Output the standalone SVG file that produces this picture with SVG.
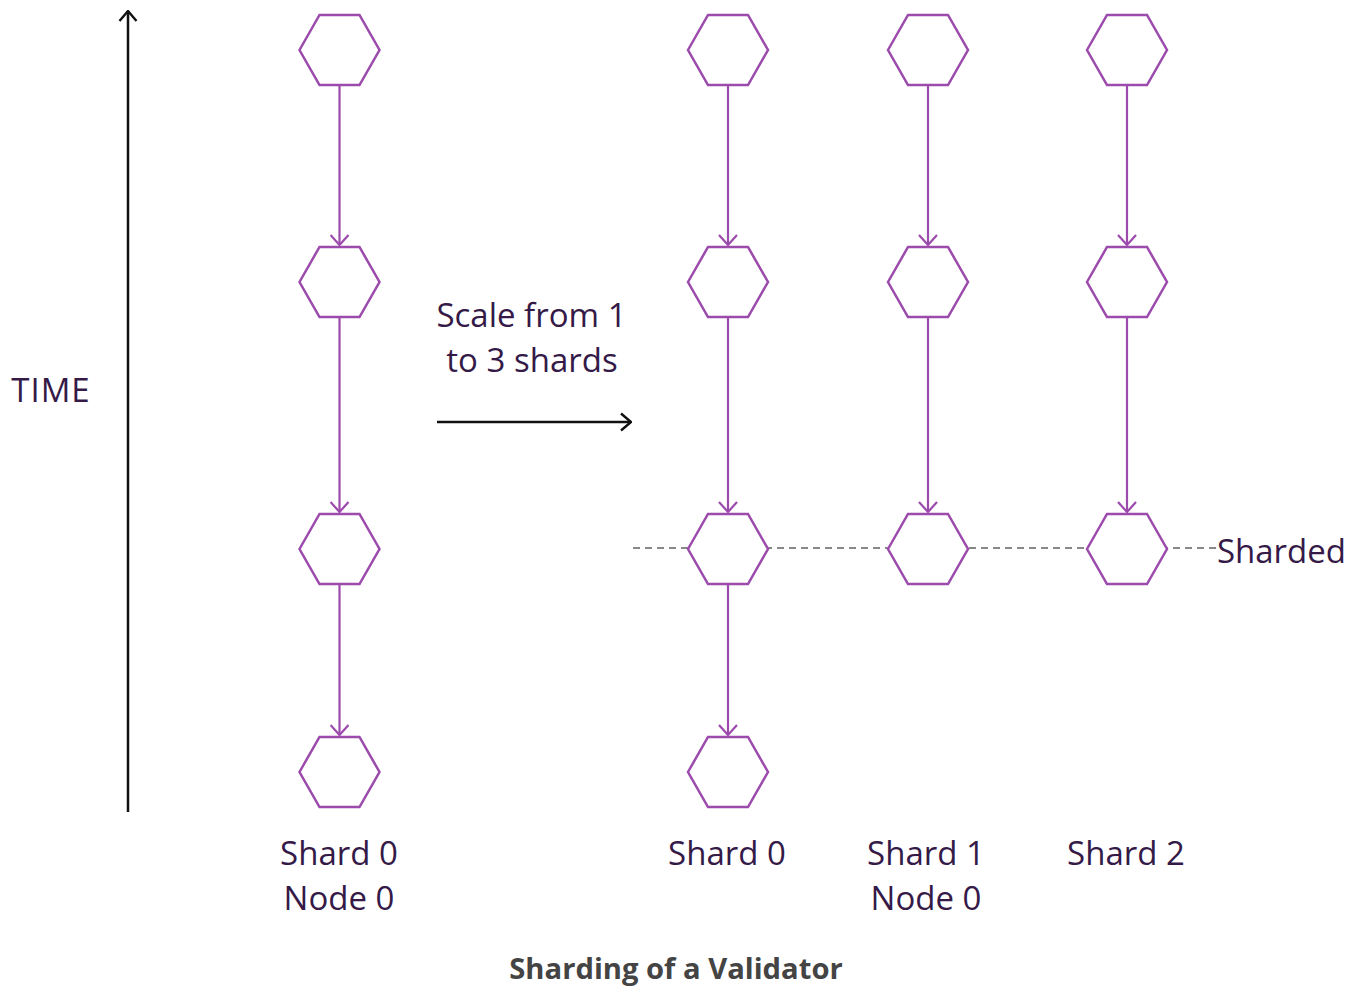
<svg xmlns="http://www.w3.org/2000/svg" width="1361" height="987" viewBox="0 0 1361 987">
<defs>
<style>
.hex{fill:#fff;stroke:#9c4aac;stroke-width:2.5;}
.edge{fill:none;stroke:#9c4aac;stroke-width:2.2;}
.blk{fill:none;stroke:#111;stroke-width:2.5;}
.dash{fill:none;stroke:#888;stroke-width:2;stroke-dasharray:7 5;}
.lbl{font-family:"Open Sans","Noto Sans",sans-serif;font-size:33px;fill:#351a48;text-anchor:middle;}
.title{font-family:"Open Sans","Noto Sans",sans-serif;font-size:29.2px;font-weight:bold;fill:#444;text-anchor:middle;}
</style>
<polygon id="h" points="-40,0 -20,-35 20,-35 40,0 20,35 -20,35"/>
<marker id="ap" viewBox="0 0 12 20" refX="11" refY="10" markerWidth="12" markerHeight="20" markerUnits="userSpaceOnUse" orient="auto"><path d="M1,1 L11,10 L1,19" fill="none" stroke="#9c4aac" stroke-width="2.2"/></marker>
<marker id="ab" viewBox="0 0 12 20" refX="11" refY="10" markerWidth="12" markerHeight="20" markerUnits="userSpaceOnUse" orient="auto"><path d="M1,1.5 L11,10 L1,18.5" fill="none" stroke="#111" stroke-width="2.4"/></marker>
</defs>
<rect width="1361" height="987" fill="#fff"/>
<g id="connectors">
<line class="blk" x1="128" y1="812" x2="128" y2="11" marker-end="url(#ab)"/>
<line class="blk" x1="437" y1="422" x2="631" y2="422" marker-end="url(#ab)"/>
<line class="dash" x1="633" y1="548" x2="1217" y2="548"/>
<line class="edge" x1="339.5" y1="85" x2="339.5" y2="245" marker-end="url(#ap)"/>
<line class="edge" x1="339.5" y1="317" x2="339.5" y2="512" marker-end="url(#ap)"/>
<line class="edge" x1="339.5" y1="584" x2="339.5" y2="735" marker-end="url(#ap)"/>
<line class="edge" x1="728" y1="85" x2="728" y2="245" marker-end="url(#ap)"/>
<line class="edge" x1="728" y1="317" x2="728" y2="512" marker-end="url(#ap)"/>
<line class="edge" x1="728" y1="584" x2="728" y2="735" marker-end="url(#ap)"/>
<line class="edge" x1="928" y1="85" x2="928" y2="245" marker-end="url(#ap)"/>
<line class="edge" x1="928" y1="317" x2="928" y2="512" marker-end="url(#ap)"/>
<line class="edge" x1="1127" y1="85" x2="1127" y2="245" marker-end="url(#ap)"/>
<line class="edge" x1="1127" y1="317" x2="1127" y2="512" marker-end="url(#ap)"/>
</g>
<g id="n0a"><use href="#h" class="hex" x="339.5" y="50"/></g>
<g id="n0b"><use href="#h" class="hex" x="339.5" y="282"/></g>
<g id="n0c"><use href="#h" class="hex" x="339.5" y="549"/></g>
<g id="n0d"><use href="#h" class="hex" x="339.5" y="772"/></g>
<g id="s0a"><use href="#h" class="hex" x="728" y="50"/></g>
<g id="s0b"><use href="#h" class="hex" x="728" y="282"/></g>
<g id="s0c"><use href="#h" class="hex" x="728" y="549"/></g>
<g id="s0d"><use href="#h" class="hex" x="728" y="772"/></g>
<g id="s1a"><use href="#h" class="hex" x="928" y="50"/></g>
<g id="s1b"><use href="#h" class="hex" x="928" y="282"/></g>
<g id="s1c"><use href="#h" class="hex" x="928" y="549"/></g>
<g id="s2a"><use href="#h" class="hex" x="1127" y="50"/></g>
<g id="s2b"><use href="#h" class="hex" x="1127" y="282"/></g>
<g id="s2c"><use href="#h" class="hex" x="1127" y="549"/></g>
<g id="labels">
<text class="lbl" x="51" y="402" style="letter-spacing:1px">TIME</text>
<text class="lbl" x="531.5" y="327">Scale from 1</text>
<text class="lbl" x="532" y="372">to 3 shards</text>
<text class="lbl" x="1281.5" y="563">Sharded</text>
<text class="lbl" x="339" y="865">Shard 0</text>
<text class="lbl" x="339" y="910">Node 0</text>
<text class="lbl" x="727" y="865">Shard 0</text>
<text class="lbl" x="926" y="865">Shard 1</text>
<text class="lbl" x="926" y="910">Node 0</text>
<text class="lbl" x="1126" y="865">Shard 2</text>
<text class="title" x="676" y="979">Sharding of a Validator</text>
</g>
</svg>
